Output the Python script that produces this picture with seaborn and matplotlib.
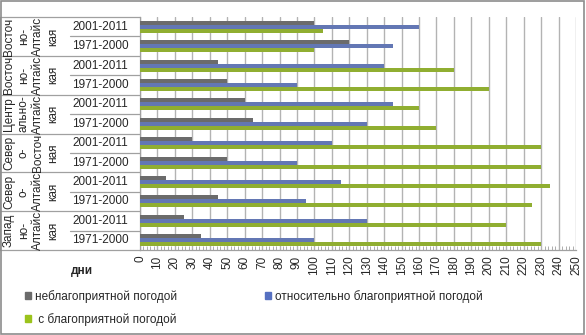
import numpy as np
import pandas as pd
import seaborn as sns
import matplotlib.pyplot as plt
from matplotlib.patches import Patch, Rectangle
from matplotlib.lines import Line2D
import matplotlib.transforms as mtransforms

# --- data (rows top to bottom) ---
groups = [
    "Восточ\nно-\nАлтайс\nкая",
    "Восточ\nно-\nАлтайс\nкая",
    "Центр\nально-\nАлтайс\nкая",
    "Север\nо-\nВосточ\nная",
    "Север\nо-\nАлтайс\nкая",
    "Запад\nно-\nАлтайс\nкая",
]
periods = ["2001-2011", "1971-2000"]
unfavorable = [100, 120, 45, 50, 60, 65, 30, 50, 15, 45, 25, 35]
relatively = [160, 145, 140, 90, 145, 130, 110, 90, 115, 95, 130, 100]
favorable = [105, 100, 180, 200, 160, 170, 230, 230, 235, 225, 210, 230]
series_names = ["неблагоприятной погодой", "относительно благоприятной погодой",
                "с благоприятной погодой"]
colors = ["#6b6b6b", "#5670c1", "#9bc31c"]
xticks = list(range(0, 251, 10))

rows = [f"{g}|{p}" for g in range(len(groups)) for p in periods]
df = pd.DataFrame({
    "row": rows * 3,
    "days": unfavorable + relatively + favorable,
    "type": np.repeat(series_names, len(rows)),
})

sns.set_theme(style="white")
plt.rcParams["font.family"] = ["Liberation Sans", "DejaVu Sans"]

fig = plt.figure(figsize=(5.86, 3.35), dpi=100)
ax = fig.add_axes([140 / 586, 1 - 250 / 335, 436 / 586, 233 / 335])

sns.barplot(data=df, y="row", x="days", hue="type", order=rows,
            hue_order=series_names, palette=colors, orient="h",
            width=0.62, ax=ax, legend=False, edgecolor="none", zorder=3)

ax.set_xlim(0, 250)
ax.set_ylim(len(rows) - 0.5, -0.5)
ax.set_xticks(xticks)
ax.set_xticklabels([str(t) for t in xticks], rotation=90, fontsize=8.5)
ax.set_xticks(np.arange(0, 251, 2), minor=True)
ax.tick_params(axis="x", which="major", length=4, width=0.8, color="#a0a0a0",
               direction="inout", pad=2)
ax.tick_params(axis="x", which="minor", length=3, width=0.6, color="#a0a0a0",
               direction="in", bottom=True)
ax.set_yticks([])
ax.set_xlabel("")
ax.set_ylabel("")
ax.grid(axis="x", color="#b3b3b3", linewidth=1, zorder=0)
ax.grid(axis="y", visible=False)
for s in ["top", "right"]:
    ax.spines[s].set_visible(False)
for s in ["left", "bottom"]:
    ax.spines[s].set_color("#a0a0a0")
    ax.spines[s].set_linewidth(0.9)

# category table on the left
trans = mtransforms.blended_transform_factory(ax.transAxes, ax.transData)
x0 = -140 / 436
xmid = -70 / 436
for i, g in enumerate(groups):
    top = 2 * i - 0.5
    ax.add_line(Line2D([x0, 0], [top, top], transform=trans, color="#a0a0a0",
                       lw=0.9, clip_on=False))
    ax.add_line(Line2D([xmid, 0], [top + 1, top + 1], transform=trans,
                       color="#a0a0a0", lw=0.9, clip_on=False))
    ax.text(-109 / 436, 2 * i + 0.5, g, transform=trans, rotation=90,
            ha="center", va="center", multialignment="center", fontsize=8.5,
            linespacing=1.3)
    for j, p in enumerate(periods):
        ax.text(-40 / 436, 2 * i + j, p, transform=trans, ha="center",
                va="center", fontsize=8.5)
bottom = len(rows) - 0.5
ax.add_line(Line2D([x0, 0], [bottom, bottom], transform=trans, color="#a0a0a0",
                   lw=0.9, clip_on=False))
ax.add_line(Line2D([x0, x0], [-0.5, bottom], transform=trans, color="#a0a0a0",
                   lw=0.9, clip_on=False))

fig.text(82 / 586, 1 - 271 / 335, "дни", fontsize=8.5, fontweight="bold",
         ha="center", va="center")

handles = [Patch(color=colors[0]), Patch(color=colors[2]), Patch(color=colors[1])]
labels = [series_names[0], " " + series_names[2], series_names[1]]
fig.legend(handles, labels, ncol=2, loc="upper left",
           bbox_to_anchor=(25 / 586, 1 - 290 / 335), frameon=False,
           fontsize=8.5, handlelength=0.55, handleheight=0.55,
           handletextpad=0.3, columnspacing=7.4, labelspacing=0.85,
           borderaxespad=0, borderpad=0)

fig.patches.append(Rectangle((0.002, 0.003), 0.995, 0.993, transform=fig.transFigure,
                             fill=False, edgecolor="#8c8c8c", linewidth=1.2))

fig.savefig("out.png", dpi=100)
